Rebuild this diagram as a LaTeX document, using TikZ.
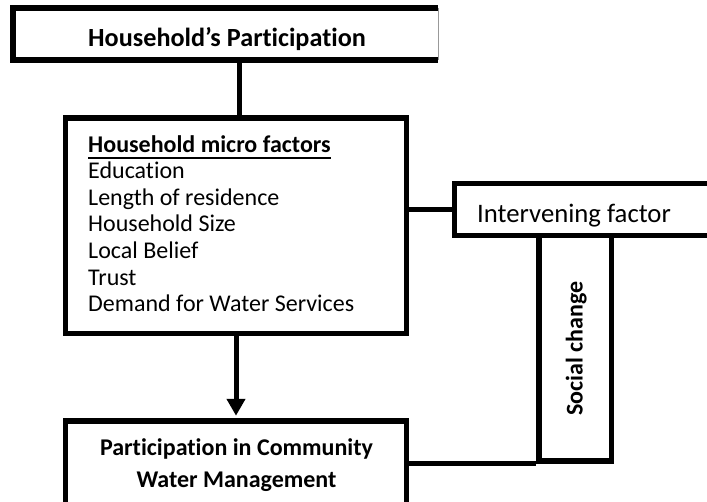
\documentclass[tikz,border=0pt]{standalone}
\usepackage{fontspec}
\setmainfont{Carlito}[RawFeature={-liga;-clig;-calt}]
\usetikzlibrary{arrows.meta}
\newcommand{\myuline}[1]{\setbox0\hbox{#1}\rlap{\rule[-7pt]{\wd0}{1.8pt}}\box0}
\tikzset{
  boxnode/.style={draw=black, line width=5.5pt, rectangle, inner sep=0pt, fill=white},
  conn/.style={draw=black, line width=5pt},
  txt/.style={inner sep=0pt, text=black},
  midtxt/.style={txt, anchor=base west, font=\fontsize{24}{26.6}\selectfont},
  boldtxt/.style={txt, anchor=base, font=\fontsize{24}{28}\selectfont\bfseries},
}
\begin{document}
\begin{tikzpicture}[x=1pt, y=-1pt]
\useasboundingbox (0,0) rectangle (707,501);
\clip (0,0) rectangle (707,501);
% boxes
\node[txt, minimum width=425pt, minimum height=52pt] (tb) at (225.5,34) {};
\draw[line width=5.5pt] (tb.north east) -- (tb.north west) -- (tb.south west) -- (tb.south east);
\draw[line width=1pt, black!40] (tb.north east) -- (tb.south east);
\node[boxnode, minimum width=341pt, minimum height=215.5pt] (mb) at (236,225.75) {};
\node[boxnode, minimum width=341pt, minimum height=99pt] (bb) at (236,470.5) {};
\node[boxnode, minimum width=275.5pt, minimum height=52pt] (ib) at (592.25,209.5) {};
\node[boxnode, minimum width=72.5pt, minimum height=225.5pt] (sc) at (575.25,348.25) {};
% connectors
\draw[conn] ([xshift=3pt]tb.south -| mb.north) -- ([xshift=3pt]mb.north);
\draw[conn, -{Triangle[width=18pt,length=17pt]}, shorten >=2.5pt] (mb.south) -- (bb.north);
\draw[conn] (mb.east |- ib.west) -- (ib.west);
\draw[conn] (bb.east |- sc.south) -- (sc.south west);
% texts
\node[txt, anchor=base, font=\fontsize{26.2}{30}\selectfont\bfseries] (t1) at (227,46) {Household’s Participation};
\node[midtxt, font=\fontsize{24}{26.6}\selectfont\bfseries] (m0) at (88,152) {\myuline{Household micro factors}};
\node[midtxt] (m1) at (88,178.6) {Education};
\node[midtxt] (m2) at (88,205.2) {Length of residence};
\node[midtxt] (m3) at (88,231.8) {Household Size};
\node[midtxt] (m4) at (88,258.4) {Local Belief};
\node[midtxt] (m5) at (88,285) {Trust};
\node[midtxt] (m6) at (88,311.6) {Demand for Water Services};
\node[boldtxt] (b1) at (236.5,455) {Participation in Community};
\node[boldtxt] (b2) at (236.5,487) {Water Management};
\node[txt, anchor=base west, font=\fontsize{26.7}{30}\selectfont] (i1) at (477,222) {Intervening factor};
\node[boldtxt, rotate=90] (s1) at (582.5,348.5) {Social change};
\end{tikzpicture}
\end{document}
